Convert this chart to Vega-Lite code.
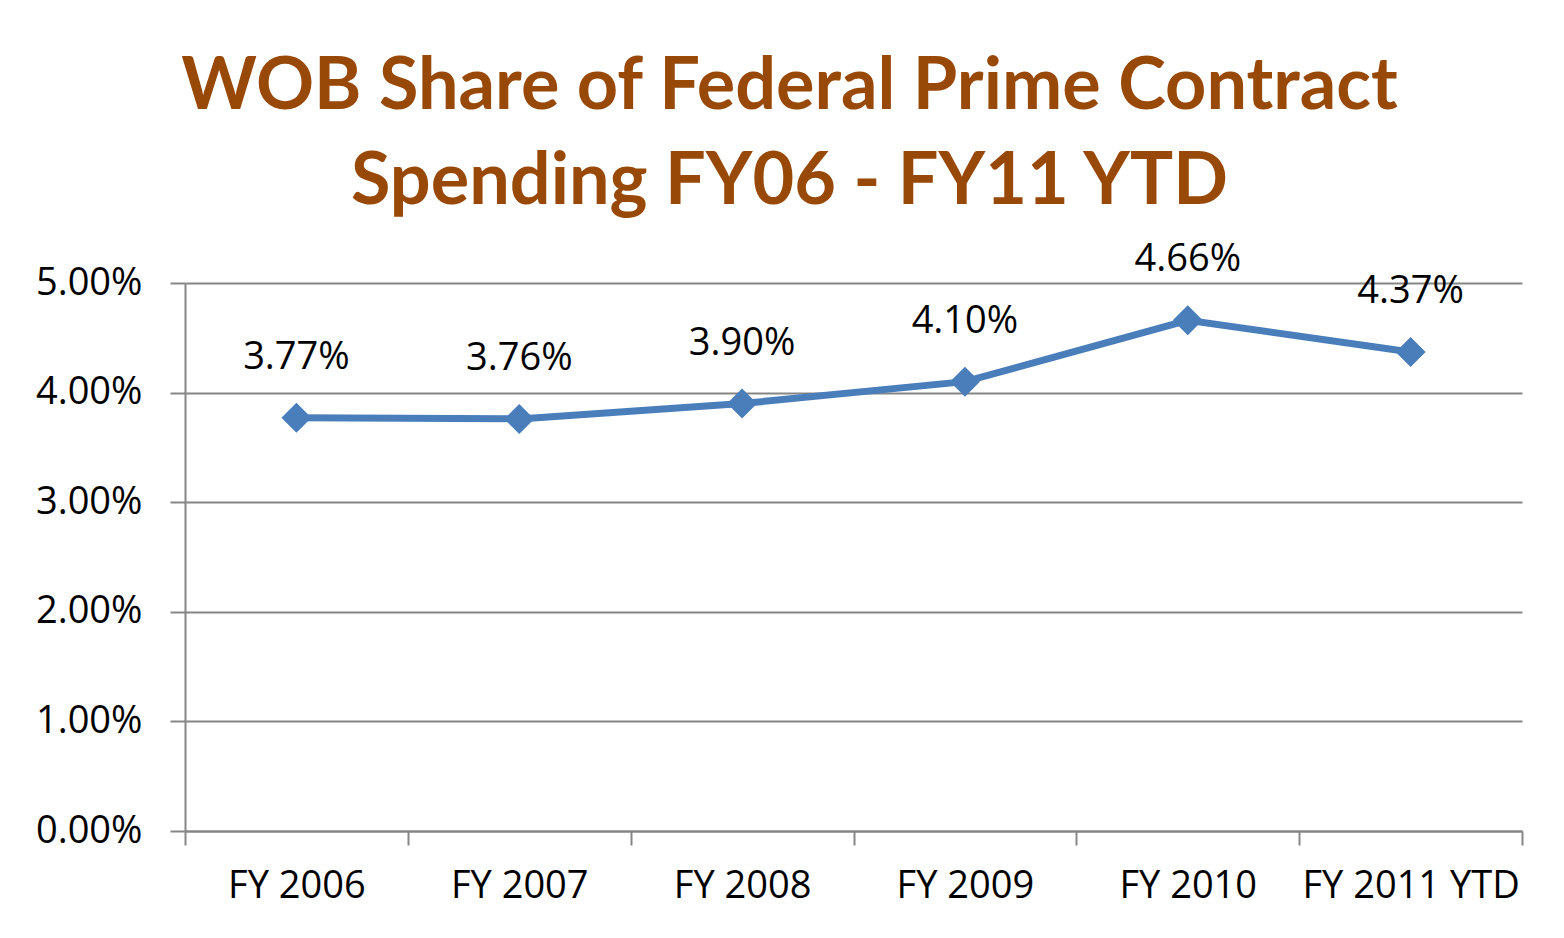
{
  "$schema": "https://vega.github.io/schema/vega-lite/v6.json",
  "autosize": "none",
  "width": 1337,
  "height": 548,
  "padding": {"left": 185, "top": 283, "right": 42, "bottom": 107},
  "background": "white",
  "title": {
    "text": ["WOB Share of Federal Prime Contract", "Spending FY06 - FY11 YTD"],
    "font": "Lato",
    "fontWeight": "bold",
    "fontSize": 72,
    "lineHeight": 95,
    "color": "#984807",
    "anchor": "middle",
    "frame": "group",
    "dx": -64,
    "offset": 22
  },
  "data": {
    "values": [
      {"year": "FY 2006", "share": 0.0377},
      {"year": "FY 2007", "share": 0.0376},
      {"year": "FY 2008", "share": 0.039},
      {"year": "FY 2009", "share": 0.041},
      {"year": "FY 2010", "share": 0.0466},
      {"year": "FY 2011 YTD", "share": 0.0437}
    ]
  },
  "encoding": {
    "x": {
      "field": "year",
      "type": "ordinal",
      "sort": null,
      "bandPosition": 0.5,
      "scale": {"type": "band", "paddingInner": 0, "paddingOuter": 0},
      "axis": {
        "title": null,
        "labelAngle": 0,
        "labelFont": "Open Sans",
        "labelFontSize": 38,
        "labelColor": "black",
        "labelPadding": 22,
        "labelLimit": 400,
        "tickBand": "extent",
        "tickSize": 14,
        "tickWidth": 2,
        "tickColor": "#868686",
        "domainColor": "#868686",
        "domainWidth": 2,
        "grid": false
      }
    },
    "y": {
      "field": "share",
      "type": "quantitative",
      "scale": {"domain": [0, 0.05], "nice": false},
      "axis": {
        "title": null,
        "values": [0, 0.01, 0.02, 0.03, 0.04, 0.05],
        "format": ".2%",
        "labelFont": "Open Sans",
        "labelFontSize": 38,
        "labelColor": "black",
        "labelPadding": 28,
        "tickSize": 15,
        "tickWidth": 2,
        "tickColor": "#868686",
        "domainColor": "#868686",
        "domainWidth": 2,
        "grid": true,
        "gridColor": "#868686",
        "gridWidth": 2
      }
    }
  },
  "layer": [
    {"mark": {"type": "line", "color": "#4A7EBB", "strokeWidth": 7}},
    {"mark": {"type": "point", "shape": "diamond", "filled": true, "size": 900, "color": "#4A7EBB", "opacity": 1}},
    {
      "mark": {"type": "text", "font": "Open Sans", "fontSize": 38, "color": "black", "dy": -60, "baseline": "middle"},
      "encoding": {"text": {"field": "share", "type": "quantitative", "format": ".2%"}}
    }
  ],
  "config": {"view": {"stroke": null}}
}
